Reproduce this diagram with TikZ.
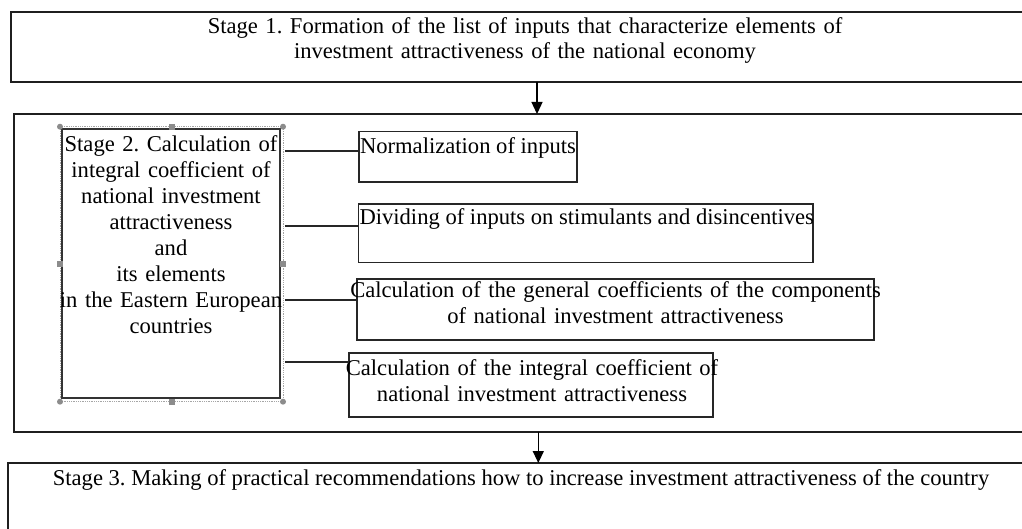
\documentclass[tikz,border=0pt]{standalone}
\usepackage{fontspec}
\setmainfont{Liberation Serif}
\usetikzlibrary{arrows.meta,calc}
\frenchspacing
\begin{document}
\begin{tikzpicture}[x=1pt,y=-1pt,
  frame/.style={draw=black!88, line width=2pt, anchor=north west, inner sep=0pt, outer sep=0pt},
  sbox/.style={draw=black!85, line width=1.6pt, anchor=north west, inner sep=0pt, outer sep=0pt},
  txt/.style={font=\frenchspacing\fontsize{22.6}{26}\selectfont, inner sep=0pt, outer sep=0pt},
  link/.style={draw=black!85, line width=1.6pt},
  arr/.style={draw=black, line width=1.3pt, -{Triangle[length=12pt,width=11pt]}},
  handle/.style={fill=black!45, draw=none},
  selframe/.style={draw=black!35, densely dotted, line width=0.8pt, anchor=north west, inner sep=0pt, outer sep=0pt}]
\useasboundingbox (0,0) rectangle (1022,529);
\begin{scope}
\clip (0,0) rectangle (1022,529);

% Stage 1
\node[frame, minimum width=1030pt, minimum height=70pt] (s1) at (11,12) {};
\node[txt, text width=700pt, align=center, anchor=base] (t0) at (525,33.3)
  {Stage 1. Formation of the list of inputs that characterize elements of\\[-1pt]
   investment attractiveness of the national economy};

% Stage 2 outer frame
\node[frame, minimum width=1030pt, minimum height=317.7pt] (s2o) at (14.3,114) {};

% Stage 2 left box with selection frame
\node[selframe, minimum width=223pt, minimum height=275pt] (sel) at (60,126.7) {};
\node[sbox, line width=2pt, draw=black!80, minimum width=218pt, minimum height=269pt] (s2) at (62,129.3) {};
\node[txt, text width=230pt, align=center, anchor=base] (t2) at (171,151.7)
  {Stage 2. Calculation of\\ integral coefficient of\\ national investment\\ attractiveness\\ and\\ its elements\\ in the Eastern European\\ countries};

% selection handles
\foreach \p in {(sel.north west),(sel.north east),(sel.south west),(sel.south east)}
  \fill[handle] \p circle (3pt);
\foreach \p in {(sel.north),(sel.south),(sel.west),(sel.east)}
  \fill[handle] \p ++(-3,-3) rectangle ++(6,6);

% right boxes
\node[sbox, minimum width=217.7pt, minimum height=50.6pt] (b1) at (359,131.7) {};
\node[txt, anchor=base west] (tb1) at (360,153.3) {Normalization of inputs};

\node[sbox, minimum width=454.4pt, minimum height=58.7pt] (b2) at (358.6,204) {};
\node[txt, anchor=base west] (tb2) at (359.5,225) {Dividing of inputs on stimulants and disincentives};

\node[sbox, minimum width=517pt, minimum height=61pt] (b3) at (357,279) {};
\node[txt, text width=540pt, align=center, anchor=base] (tb3) at (615.5,297)
  {Calculation of the general coefficients of the components\\ of national investment attractiveness};

\node[sbox, minimum width=364pt, minimum height=64pt] (b4) at (349,353) {};
\node[txt, text width=400pt, align=center, anchor=base] (tb4) at (532,375)
  {Calculation of the integral coefficient of\\ national investment attractiveness};

% connectors
\coordinate (y1) at (0,151);
\coordinate (y2) at (0,226);
\coordinate (y3) at (0,300);
\coordinate (y4) at (0,362);
\draw[link] ($(sel.east |- y1)+(2,0)$) -- (b1.west |- y1);
\draw[link] ($(sel.east |- y2)+(2,0)$) -- (b2.west |- y2);
\draw[link] ($(sel.east |- y3)+(2,0)$) -- (b3.west |- y3);
\draw[link] ($(sel.east |- y4)+(2,0)$) -- (b4.west |- y4);

% Stage 3
\node[frame, minimum width=1030pt, minimum height=100pt] (s3) at (8.3,463) {};
\node[txt, anchor=base] (t3) at (521,485)
  {Stage 3. Making of practical recommendations how to increase investment attractiveness of the country};

% arrows
\coordinate (a1) at (537,0);
\coordinate (a2) at (538.3,0);
\draw[arr] (s1.south -| a1) -- (s2o.north -| a1);
\draw[arr] (s2o.south -| a2) -- (s3.north -| a2);
\end{scope}
\end{tikzpicture}
\end{document}
